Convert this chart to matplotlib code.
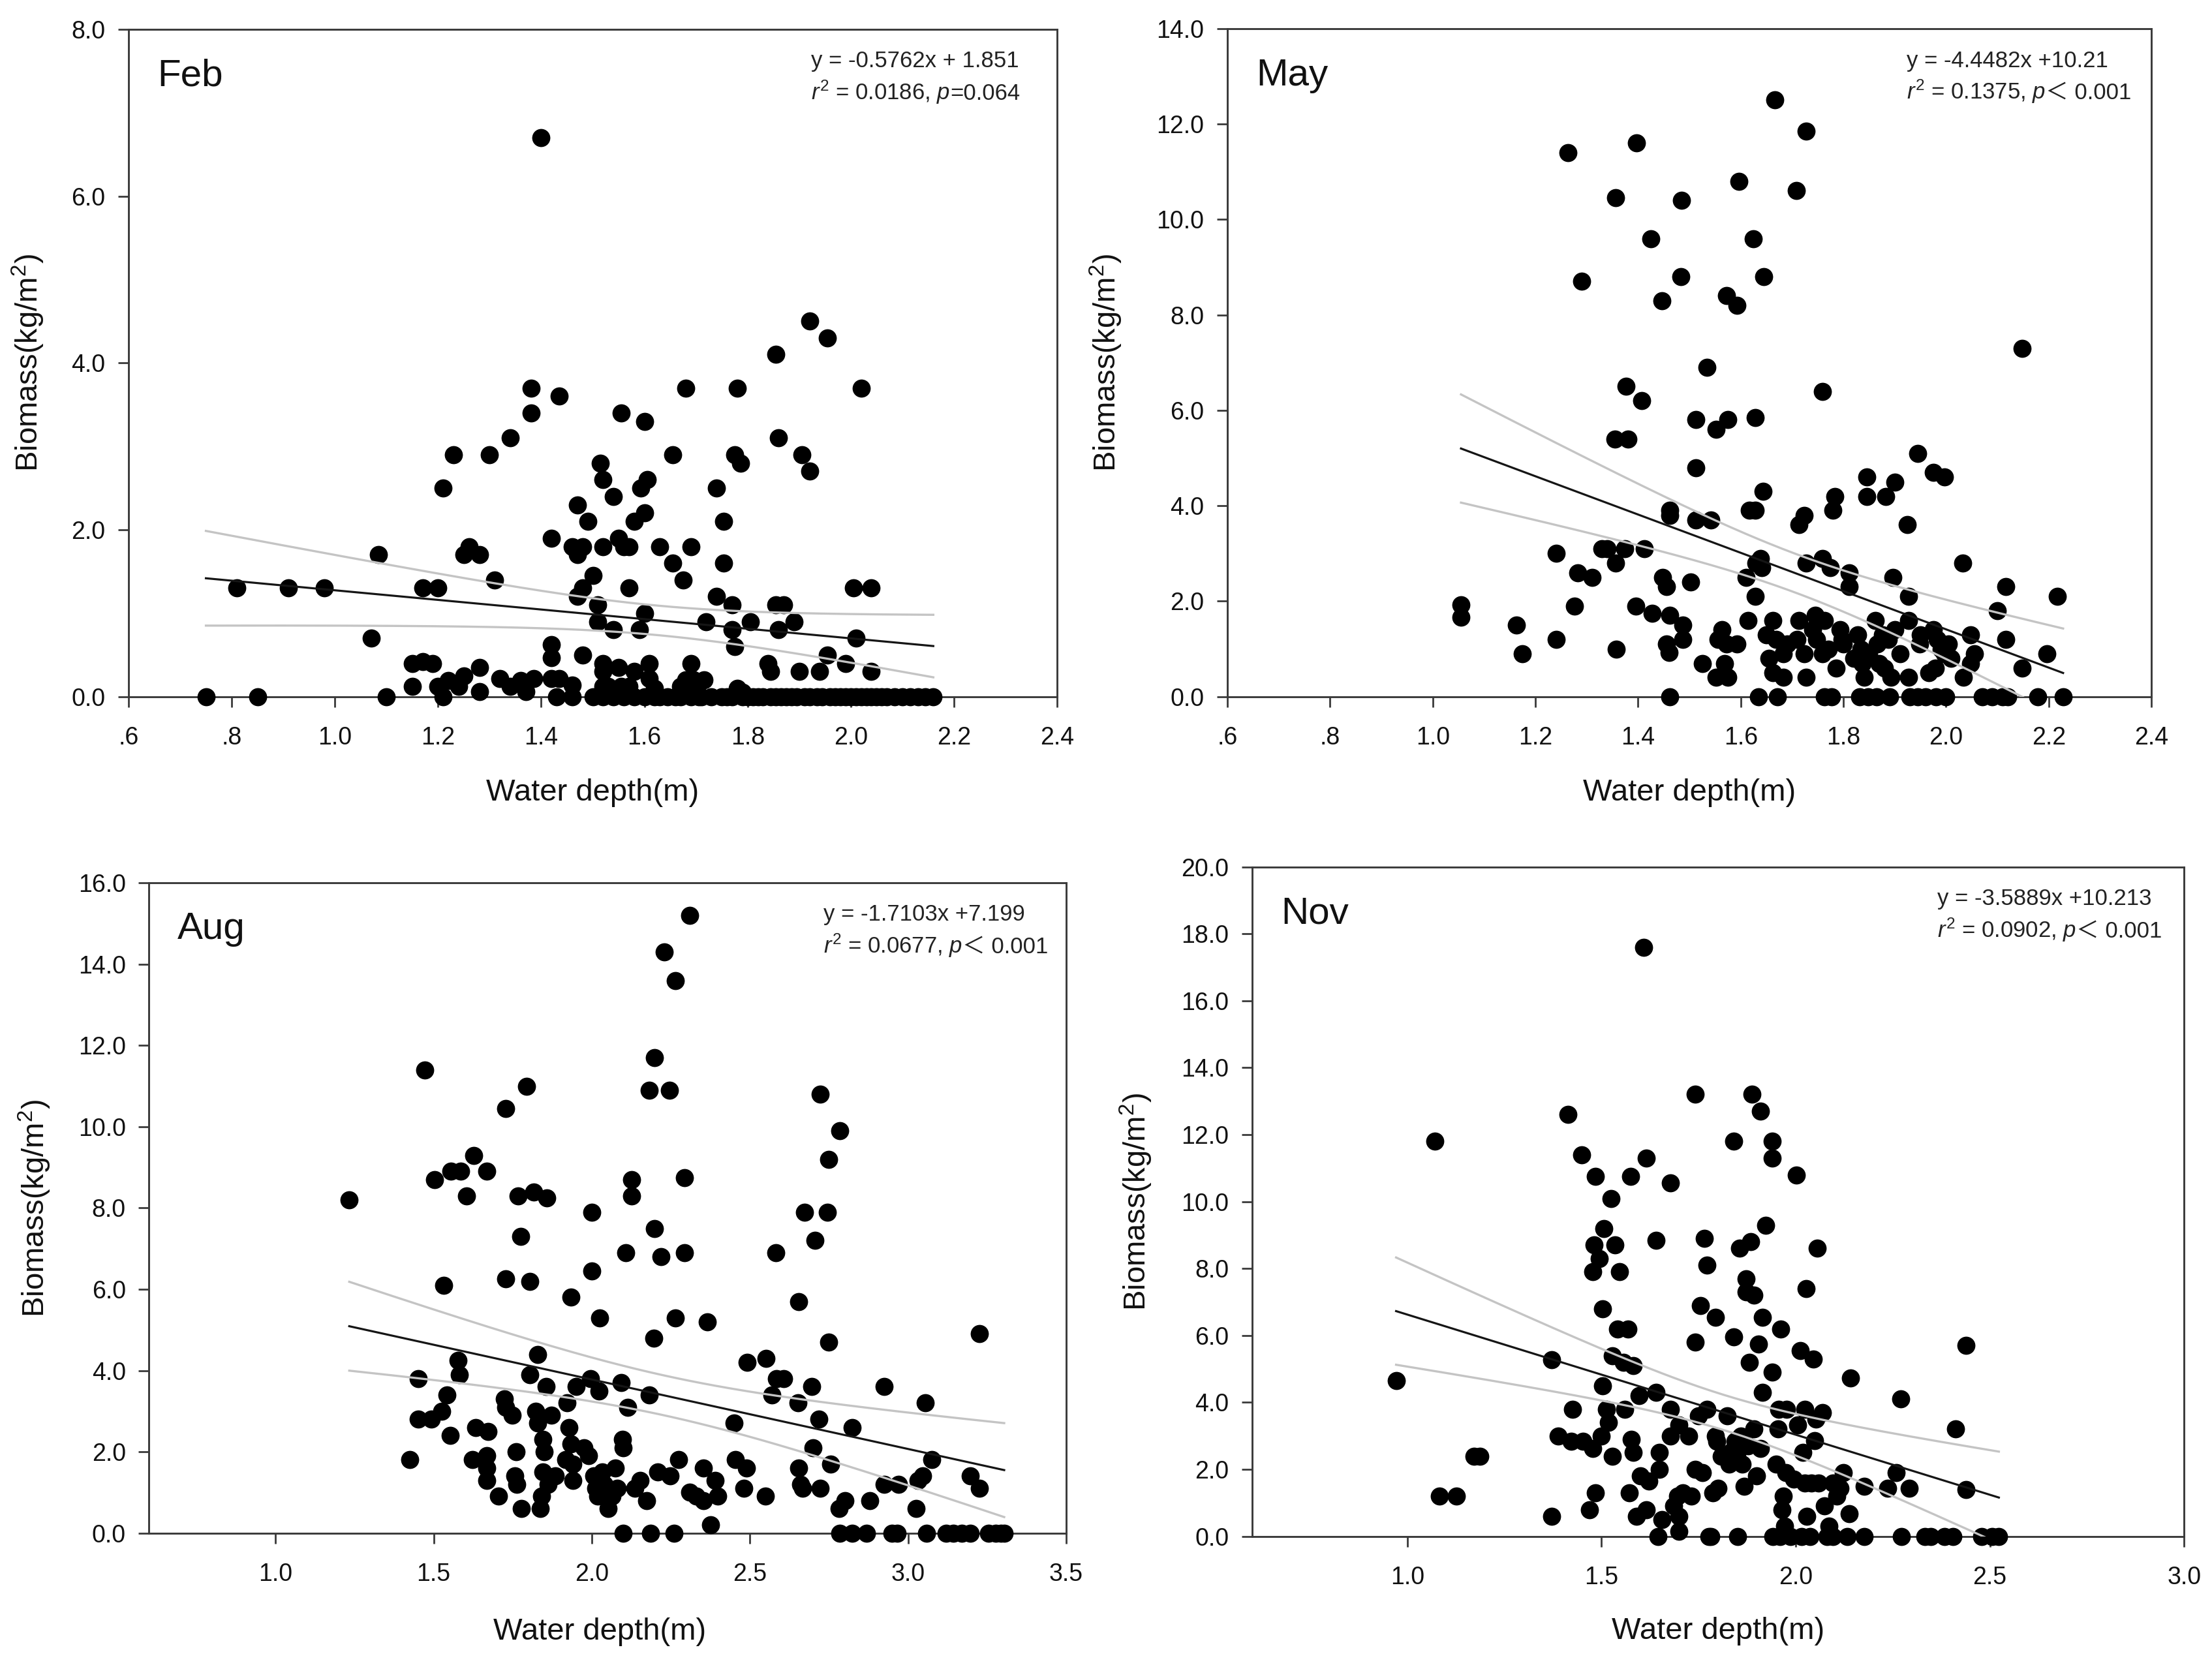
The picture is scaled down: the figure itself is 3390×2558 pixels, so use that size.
import numpy as np
import matplotlib
matplotlib.use("Agg")
import matplotlib.pyplot as plt
from matplotlib.offsetbox import TextArea, HPacker, VPacker, AnchoredOffsetbox

plt.rcParams['font.family'] = ['Liberation Sans', 'DejaVu Sans']
plt.rcParams['mathtext.fontset'] = 'custom'
plt.rcParams['mathtext.rm'] = 'Liberation Sans'
plt.rcParams['mathtext.it'] = 'Liberation Sans:italic'
plt.rcParams['mathtext.bf'] = 'Liberation Sans:bold'

# ---------------- DATA ----------------
feb_depth = [0.75, 0.81, 0.85, 0.91, 0.98, 1.07, 1.085, 1.10,
             1.15, 1.15, 1.17, 1.17, 1.19, 1.20, 1.20, 1.21, 1.21, 1.23, 1.22, 1.24, 1.25, 1.26, 1.25, 1.28, 1.28, 1.28, 1.30, 1.31, 1.32, 1.34, 1.34, 1.36, 1.37, 1.38, 1.38, 1.385,
             1.40, 1.42, 1.42, 1.42, 1.42, 1.43, 1.435, 1.435, 1.46, 1.46, 1.46, 1.47, 1.47, 1.48, 1.47, 1.48, 1.48, 1.49, 1.50, 1.50,
             1.51, 1.51, 1.515, 1.52, 1.52, 1.52, 1.52, 1.52, 1.53, 1.54, 1.54, 1.55, 1.55, 1.555, 1.56, 1.57, 1.57, 1.555, 1.57, 1.58, 1.58, 1.59, 1.593,
             1.60, 1.60, 1.60, 1.605, 1.60, 1.61, 1.61, 1.62, 1.63, 1.63, 1.645, 1.655, 1.655, 1.675, 1.67, 1.67, 1.68, 1.69, 1.69, 1.68, 1.695, 1.70, 1.705, 1.715, 1.72, 1.73,
             1.74, 1.74, 1.75, 1.753, 1.753, 1.77, 1.77, 1.775, 1.775, 1.78, 1.786, 1.78, 1.79, 1.805, 1.80, 1.82, 1.84, 1.845, 1.855, 1.855, 1.86, 1.86, 1.87, 1.855, 1.875,
             1.89, 1.90, 1.905, 1.91, 1.92, 1.92, 1.94, 1.935, 1.955, 1.955, 1.96, 1.99, 1.98, 2.005, 2.01, 2.02, 2.00, 2.02, 2.04, 2.04, 2.04,
             2.07, 2.085, 2.10, 2.115, 2.13, 2.145, 2.16,
             1.52, 1.54, 1.56, 1.58, 1.62, 1.66, 1.69, 1.71, 1.76, 1.77, 1.79, 1.81, 1.83, 1.845, 1.865, 1.885, 1.895, 1.92, 1.945, 1.97, 1.99, 2.01, 2.03, 2.05, 2.06]
feb_biomass = [0.0, 1.3, 0.0, 1.3, 1.3, 0.7, 1.7, 0.0,
               0.4, 0.12, 1.3, 0.42, 0.4, 1.3, 0.12, 0.0, 2.5, 2.9, 0.19, 0.12, 1.7, 1.8, 0.25, 1.7, 0.35, 0.06, 2.9, 1.4, 0.22, 3.1, 0.12, 0.19, 0.06, 3.7, 3.4, 0.22,
               6.7, 1.9, 0.62, 0.47, 0.22, 0.0, 3.6, 0.22, 1.8, 0.14, 0.0, 2.3, 1.7, 1.8, 1.2, 1.3, 0.5, 2.1, 1.45, 0.0,
               1.1, 0.9, 2.8, 2.6, 1.8, 0.4, 0.3, 0.12, 0.12, 2.4, 0.8, 1.9, 0.35, 3.4, 1.8, 1.3, 1.8, 0.12, 0.12, 2.1, 0.3, 0.8, 2.5,
               2.2, 1.0, 3.3, 2.6, 0.0, 0.4, 0.22, 0.1, 1.8, 0.0, 0.0, 1.6, 2.9, 1.4, 0.12, 0.0, 3.7, 0.4, 1.8, 0.2, 0.2, 0.1, 0.0, 0.2, 0.9, 0.0,
               2.5, 1.2, 0.0, 2.1, 1.6, 1.1, 0.8, 2.9, 0.6, 3.7, 2.8, 0.1, 0.05, 0.9, 0.0, 0.0, 0.4, 0.3, 4.1, 1.1, 0.8, 3.1, 1.1, 0.0, 0.0,
               0.9, 0.3, 2.9, 0.0, 4.5, 2.7, 0.3, 0.0, 4.3, 0.5, 0.0, 0.4, 0.0, 1.3, 0.7, 3.7, 0.0, 0.0, 1.3, 0.3, 0.0,
               0.0, 0.0, 0.0, 0.0, 0.0, 0.0, 0.0,
               0.0, 0.0, 0.0, 0.0, 0.0, 0.0, 0.0, 0.0, 0.0, 0.0, 0.0, 0.0, 0.0, 0.0, 0.0, 0.0, 0.0, 0.0, 0.0, 0.0, 0.0, 0.0, 0.0, 0.0, 0.0]

may_depth = [1.055, 1.055, 1.163, 1.175, 1.24, 1.24, 1.263, 1.276, 1.283, 1.29, 1.31, 1.33, 1.34, 1.356, 1.355, 1.356, 1.357, 1.374, 1.376, 1.38,
             1.397, 1.396, 1.407, 1.412, 1.425, 1.428, 1.447, 1.448, 1.455, 1.455, 1.462, 1.462, 1.462, 1.462, 1.46, 1.484, 1.483, 1.487, 1.487, 1.502,
             1.513, 1.513, 1.513, 1.525, 1.534, 1.542, 1.552, 1.556, 1.552, 1.564, 1.568, 1.572, 1.575, 1.575, 1.572, 1.593, 1.596, 1.593, 1.611, 1.614,
             1.617, 1.625, 1.628, 1.628, 1.628, 1.63, 1.634, 1.638, 1.645, 1.644, 1.641, 1.655, 1.663, 1.663, 1.666, 1.669, 1.672, 1.683, 1.683, 1.708,
             1.71, 1.713, 1.714, 1.724, 1.727, 1.728, 1.724, 1.728, 1.745, 1.748, 1.759, 1.759, 1.763, 1.759, 1.763, 1.777, 1.775, 1.779, 1.783, 1.786,
             1.793, 1.797, 1.811, 1.811, 1.828, 1.834, 1.837, 1.832, 1.845, 1.845, 1.841, 1.848, 1.862, 1.866, 1.865, 1.876, 1.88, 1.883, 1.887, 1.893,
             1.89, 1.897, 1.90, 1.90, 1.924, 1.927, 1.927, 1.927, 1.93, 1.945, 1.948, 1.945, 1.96, 1.966, 1.975, 1.975, 1.979, 1.983, 1.98, 1.997,
             1.997, 2.004, 2.00, 2.032, 2.034, 2.048, 2.055, 2.048, 2.07, 2.09, 2.11, 2.10, 2.117, 2.117, 2.12, 2.148, 2.148, 2.179, 2.197, 2.217, 2.228,
             1.65, 1.69, 1.74, 1.77, 1.80, 1.82, 1.85, 1.87, 1.91, 1.95, 1.99, 2.01]
may_biomass = [1.92, 1.67, 1.5, 0.9, 3.0, 1.2, 11.4, 1.9, 2.6, 8.7, 2.5, 3.1, 3.1, 10.45, 5.4, 2.8, 1.0, 3.1, 6.5, 5.4,
               11.6, 1.9, 6.2, 3.1, 9.6, 1.75, 8.3, 2.5, 2.3, 1.1, 3.9, 3.8, 1.7, 0.0, 0.93, 10.4, 8.8, 1.5, 1.2, 2.4,
               5.8, 4.8, 3.7, 0.7, 6.9, 3.7, 5.6, 1.2, 0.4, 1.4, 0.7, 8.4, 5.8, 0.4, 1.1, 8.2, 10.8, 1.1, 2.5, 1.6,
               3.9, 9.6, 3.9, 5.85, 2.1, 2.8, 0.0, 2.9, 8.8, 4.3, 2.7, 0.8, 1.6, 0.5, 12.5, 1.2, 0.0, 0.4, 0.9, 10.6,
               1.2, 3.6, 1.6, 3.8, 11.85, 2.8, 0.9, 0.4, 1.7, 1.2, 6.4, 2.9, 1.6, 0.9, 0.0, 0.0, 2.7, 3.9, 4.2, 0.6,
               1.4, 1.2, 2.6, 2.3, 1.3, 1.0, 0.7, 0.0, 4.6, 4.2, 0.4, 0.0, 1.6, 1.1, 0.0, 1.3, 0.6, 4.2, 1.2, 0.4,
               0.0, 2.5, 4.5, 1.4, 3.6, 2.1, 1.6, 0.4, 0.0, 5.1, 1.1, 0.0, 0.0, 0.5, 1.4, 4.7, 0.6, 1.2, 0.0, 4.6,
               0.9, 1.1, 0.0, 2.8, 0.4, 1.3, 0.9, 0.7, 0.0, 0.0, 0.0, 1.8, 2.3, 1.2, 0.0, 7.3, 0.6, 0.0, 0.9, 2.1, 0.0,
               1.3, 1.1, 1.4, 1.0, 1.1, 0.8, 0.9, 0.7, 0.9, 1.3, 1.0, 0.8]

aug_depth = [1.233, 1.425, 1.452, 1.452, 1.472, 1.492, 1.503, 1.526, 1.532, 1.541, 1.553, 1.555, 1.577, 1.582, 1.586, 1.604, 1.626, 1.622, 1.633, 1.667,
             1.671, 1.667, 1.667, 1.667, 1.705, 1.727, 1.723, 1.727, 1.727, 1.749, 1.756, 1.760, 1.763, 1.767, 1.776, 1.778, 1.794, 1.805, 1.805, 1.817,
             1.823, 1.828, 1.828, 1.837, 1.841, 1.846, 1.850, 1.846, 1.857, 1.855, 1.861, 1.872, 1.884, 1.917, 1.922, 1.928, 1.935, 1.935, 1.940, 1.940,
             1.951, 1.975, 1.989, 1.995, 2.000, 2.000, 2.007, 2.013, 2.018, 2.022, 2.025, 2.034, 2.040, 2.051, 2.063, 2.074, 2.081, 2.092, 2.096, 2.100,
             2.100, 2.107, 2.114, 2.125, 2.125, 2.137, 2.152, 2.174, 2.181, 2.181, 2.186, 2.197, 2.199, 2.199, 2.208, 2.219, 2.230, 2.246, 2.248, 2.260,
             2.264, 2.264, 2.275, 2.293, 2.293, 2.309, 2.309, 2.331, 2.353, 2.353, 2.365, 2.376, 2.391, 2.398, 2.450, 2.454, 2.481, 2.488, 2.492, 2.548,
             2.550, 2.570, 2.581, 2.584, 2.606, 2.651, 2.655, 2.655, 2.660, 2.667, 2.673, 2.696, 2.700, 2.705, 2.722, 2.718, 2.722, 2.750, 2.745, 2.750,
             2.756, 2.783, 2.785, 2.785, 2.800, 2.823, 2.823, 2.868, 2.879, 2.924, 2.924, 2.950, 2.965, 2.969, 3.025, 3.031, 3.047, 3.054, 3.058, 3.076,
             3.120, 3.143, 3.170, 3.197, 3.197, 3.226, 3.226, 3.255, 3.277, 3.293, 3.304]
aug_biomass = [8.2, 1.8, 3.8, 2.8, 11.4, 2.8, 8.7, 3.0, 6.1, 3.4, 2.4, 8.9, 4.25, 3.9, 8.9, 8.3, 9.3, 1.8, 2.6, 8.9,
               2.5, 1.9, 1.3, 1.6, 0.9, 10.45, 3.3, 6.25, 3.1, 2.9, 1.4, 2.0, 1.2, 8.3, 7.3, 0.6, 11.0, 6.2, 3.9, 8.4,
               3.0, 4.4, 2.7, 0.6, 0.9, 2.3, 2.0, 1.5, 8.25, 3.6, 1.2, 2.9, 1.4, 1.8, 3.2, 2.6, 2.2, 5.8, 1.7, 1.3,
               3.6, 2.1, 1.9, 3.8, 7.9, 6.45, 1.4, 1.1, 0.9, 3.5, 5.3, 1.5, 1.2, 0.6, 0.9, 1.6, 1.1, 3.7, 2.3, 2.1,
               0.0, 6.9, 3.1, 8.7, 8.3, 1.1, 1.3, 0.8, 10.9, 3.4, 0.0, 4.8, 11.7, 7.5, 1.5, 6.8, 14.3, 10.9, 1.4, 0.0,
               5.3, 13.6, 1.8, 8.75, 6.9, 15.2, 1.0, 0.9, 1.6, 0.8, 5.2, 0.2, 1.3, 0.9, 2.7, 1.8, 1.1, 1.6, 4.2, 0.9,
               4.3, 3.4, 6.9, 3.8, 3.8, 3.2, 5.7, 1.6, 1.2, 1.1, 7.9, 3.6, 2.1, 7.2, 10.8, 2.8, 1.1, 9.2, 7.9, 4.7,
               1.7, 0.6, 9.9, 0.0, 0.8, 2.6, 0.0, 0.0, 0.8, 3.6, 1.2, 0.0, 0.0, 1.2, 0.6, 1.3, 1.4, 3.2, 0.0, 1.8,
               0.0, 0.0, 0.0, 0.0, 1.4, 4.9, 1.1, 0.0, 0.0, 0.0, 0.0]

nov_depth = [0.971, 1.071, 1.082, 1.127, 1.171, 1.186, 1.371, 1.371, 1.389, 1.413, 1.422, 1.426, 1.449, 1.453, 1.469, 1.477, 1.477, 1.480, 1.484, 1.484,
             1.495, 1.500, 1.502, 1.502, 1.506, 1.513, 1.517, 1.524, 1.528, 1.528, 1.535, 1.542, 1.546, 1.557, 1.560, 1.568, 1.571, 1.575, 1.577, 1.582,
             1.582, 1.590, 1.597, 1.600, 1.608, 1.615, 1.615, 1.622, 1.640, 1.640, 1.648, 1.648, 1.646, 1.655, 1.677, 1.677, 1.677, 1.686, 1.695, 1.699,
             1.700, 1.700, 1.710, 1.724, 1.731, 1.742, 1.742, 1.742, 1.750, 1.755, 1.759, 1.764, 1.772, 1.772, 1.777, 1.782, 1.786, 1.793, 1.793, 1.797,
             1.800, 1.808, 1.823, 1.828, 1.832, 1.840, 1.840, 1.844, 1.848, 1.851, 1.855, 1.859, 1.862, 1.868, 1.873, 1.873, 1.877, 1.881, 1.884, 1.888,
             1.892, 1.892, 1.899, 1.904, 1.910, 1.910, 1.914, 1.914, 1.923, 1.939, 1.939, 1.939, 1.941, 1.959, 1.950, 1.954, 1.957, 1.961, 1.965, 1.968,
             1.972, 1.975, 1.977, 1.986, 1.995, 2.001, 2.005, 2.012, 2.015, 2.037, 2.019, 2.023, 2.023, 2.026, 2.028, 2.040, 2.045, 2.048, 2.052, 2.056,
             2.059, 2.068, 2.074, 2.081, 2.096, 2.086, 2.096, 2.105, 2.114, 2.123, 2.132, 2.137, 2.141, 2.177, 2.177, 2.237, 2.259, 2.270, 2.272, 2.292,
             2.332, 2.347, 2.383, 2.405, 2.412, 2.438, 2.438, 2.478, 2.505, 2.523]
nov_biomass = [4.65, 11.8, 1.2, 1.2, 2.4, 2.4, 0.6, 5.27, 3.0, 12.6, 2.83, 3.8, 11.4, 2.83, 0.8, 2.62, 7.9, 8.7, 10.75, 1.3,
               8.3, 3.0, 6.8, 4.5, 9.2, 3.8, 3.4, 10.1, 5.4, 2.4, 8.7, 6.2, 7.9, 5.2, 3.8, 6.2, 1.3, 10.75, 2.9, 5.1,
               2.5, 0.6, 4.2, 1.8, 17.6, 11.3, 0.8, 1.65, 8.85, 4.3, 2.5, 2.0, 0.0, 0.5, 10.55, 3.8, 3.0, 0.9, 1.2, 3.33,
               0.6, 0.15, 1.3, 3.0, 1.2, 13.2, 5.8, 2.0, 3.6, 6.9, 1.9, 8.9, 8.1, 3.8, 0.0, 0.0, 1.3, 6.55, 3.0, 2.83,
               1.43, 2.4, 3.6, 2.15, 2.5, 5.95, 11.8, 2.83, 2.4, 0.0, 8.6, 3.0, 2.15, 1.5, 7.7, 7.3, 2.7, 5.2, 8.8, 13.2,
               7.2, 3.2, 1.8, 5.75, 2.62, 12.7, 6.55, 4.3, 9.3, 4.9, 11.8, 11.3, 0.0, 0.0, 2.15, 3.2, 3.8, 6.2, 0.8, 1.2,
               0.3, 1.9, 3.8, 0.0, 1.7, 10.8, 3.33, 5.55, 0.0, 0.0, 2.5, 3.8, 1.6, 7.4, 0.6, 1.6, 5.3, 2.85, 3.5, 8.6,
               1.6, 3.7, 0.9, 0.0, 0.0, 0.3, 1.6, 1.2, 1.43, 1.9, 0.0, 0.67, 4.73, 1.5, 0.0, 1.43, 1.9, 4.1, 0.0, 1.43,
               0.0, 0.0, 0.0, 0.0, 3.2, 5.7, 1.4, 0.0, 0.0, 0.0]

# fitted regression lines (as drawn in the figure)
line_slope = {'Feb': -0.5762, 'May': -4.01, 'Aug': -1.7103, 'Nov': -3.5889}
line_intercept = {'Feb': 1.851, 'May': 9.43, 'Aug': 7.199, 'Nov': 10.213}

eq_lines = {'Feb': 'y = -0.5762x + 1.851', 'May': 'y = -4.4482x +10.21',
            'Aug': 'y = -1.7103x +7.199', 'Nov': 'y = -3.5889x +10.213'}
r2_values = {'Feb': '0.0186', 'May': '0.1375', 'Aug': '0.0677', 'Nov': '0.0902'}
p_texts = {'Feb': '=0.064', 'May': '＜ 0.001', 'Aug': '＜ 0.001', 'Nov': '＜ 0.001'}

feb_xticks = [0.6, 0.8, 1.0, 1.2, 1.4, 1.6, 1.8, 2.0, 2.2, 2.4]
feb_xticklabels = ['.6', '.8', '1.0', '1.2', '1.4', '1.6', '1.8', '2.0', '2.2', '2.4']
aug_xticks = [1.0, 1.5, 2.0, 2.5, 3.0, 3.5]
nov_xticks = [1.0, 1.5, 2.0, 2.5, 3.0]

# ---------------- FIGURE ----------------
fig = plt.figure(figsize=(16.95, 12.79), dpi=200)

panels = [
    dict(name='Feb', x=feb_depth, y=feb_biomass, rect=[0.0581, 0.5826, 0.4198, 0.3999],
         xlim=(0.6, 2.4), ylim=(0, 8), xticks=feb_xticks, xticklabels=feb_xticklabels,
         yticks=np.arange(0, 8.1, 2), ylab=(-0.0885, 0.5), xlab=(0.5, -0.1225)),
    dict(name='May', x=may_depth, y=may_biomass, rect=[0.5549, 0.5826, 0.4177, 0.4003],
         xlim=(0.6, 2.4), ylim=(0, 14), xticks=feb_xticks, xticklabels=feb_xticklabels,
         yticks=np.arange(0, 14.1, 2), ylab=(-0.112, 0.5), xlab=(0.5, -0.1225)),
    dict(name='Aug', x=aug_depth, y=aug_biomass, rect=[0.0674, 0.0815, 0.4146, 0.3894],
         xlim=(0.6, 3.5), ylim=(0, 16), xticks=aug_xticks, xticklabels=['%.1f' % v for v in aug_xticks],
         yticks=np.arange(0, 16.1, 2), ylab=(-0.105, 0.5), xlab=(0.491, -0.13)),
    dict(name='Nov', x=nov_depth, y=nov_biomass, rect=[0.5660, 0.0795, 0.4214, 0.4011],
         xlim=(0.6, 3.0), ylim=(0, 20), xticks=nov_xticks, xticklabels=['%.1f' % v for v in nov_xticks],
         yticks=np.arange(0, 20.1, 2), ylab=(-0.105, 0.5), xlab=(0.5, -0.12)),
]

spine_col = '#3a3a3a'
for p in panels:
    ax = fig.add_axes(p['rect'])
    x = np.asarray(p['x'], float)
    y = np.asarray(p['y'], float)
    ax.scatter(x, y, s=100, c='black', linewidths=0, clip_on=False, zorder=3)

    b = line_slope[p['name']]
    a = line_intercept[p['name']]
    n = len(x)
    xm = x.mean()
    sxx = ((x - xm) ** 2).sum()
    resid = y - (a + b * x)
    s = np.sqrt((resid ** 2).sum() / (n - 2))
    xs = np.linspace(x.min(), x.max(), 200)
    yh = a + b * xs
    se = s * np.sqrt(1.0 / n + (xs - xm) ** 2 / sxx)
    t = 1.972
    ax.plot(xs, yh + t * se, color='#c4c4c4', lw=1.2, zorder=4)
    ax.plot(xs, yh - t * se, color='#c4c4c4', lw=1.2, zorder=4)
    ax.plot(xs, yh, color='#151515', lw=1.15, zorder=5)

    ax.set_xlim(*p['xlim'])
    ax.set_ylim(*p['ylim'])
    ax.set_xticks(p['xticks'])
    ax.set_xticklabels(p['xticklabels'])
    ax.set_yticks(p['yticks'])
    ax.set_yticklabels(['%.1f' % v for v in p['yticks']])
    ax.tick_params(axis='x', direction='out', length=5.8, width=1.0, pad=10.5,
                   labelsize=13.5, color=spine_col, labelcolor='#111111')
    ax.tick_params(axis='y', direction='out', length=5.8, width=1.0, pad=7,
                   labelsize=13.5, color=spine_col, labelcolor='#111111')
    for sp in ax.spines.values():
        sp.set_color(spine_col)
        sp.set_linewidth(1.05)

    ax.set_ylabel('Biomass(kg/m$^2$)', fontsize=17, color='#111111')
    ax.set_xlabel('Water depth(m)', fontsize=17, color='#111111')
    ax.yaxis.set_label_coords(*p['ylab'])
    ax.xaxis.set_label_coords(*p['xlab'])

    ax.text(0.031, 0.956, p['name'], transform=ax.transAxes, fontsize=21,
            ha='left', va='top', color='#111111')

    tp = dict(fontsize=12.5, color='#222222')
    line1 = TextArea(eq_lines[p['name']], textprops=tp)
    part_a = TextArea(r'$\mathit{r}^2$ = ' + r2_values[p['name']] + r', $\mathit{p}$', textprops=tp)
    part_b = TextArea(p_texts[p['name']],
                      textprops=dict(fontsize=12.5, color='#222222',
                                     family=['Liberation Sans', 'Noto Sans CJK SC']))
    line2 = HPacker(children=[part_a, part_b], align='baseline', pad=0, sep=0)
    box = VPacker(children=[line1, line2], align='left', pad=0, sep=3.5)
    anchored = AnchoredOffsetbox(loc='upper left', child=box, pad=0, borderpad=0,
                                 frameon=False, bbox_to_anchor=(0.735, 0.968),
                                 bbox_transform=ax.transAxes)
    ax.add_artist(anchored)

fig.savefig('out.png', dpi=200)
